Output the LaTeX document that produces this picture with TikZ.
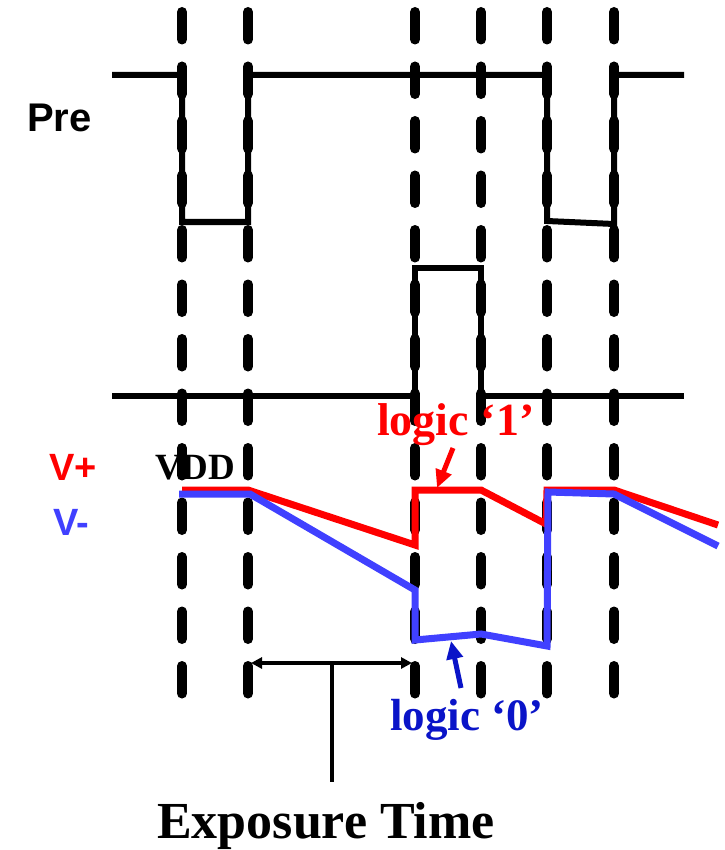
\documentclass[tikz,border=0pt]{standalone}
\usepackage{fontspec}
\setmainfont{Liberation Serif}
\newfontfamily\arialfont{Liberation Sans}
\usetikzlibrary{arrows.meta}
\definecolor{vred}{RGB}{255,0,0}
\definecolor{vblue}{RGB}{64,64,255}
\definecolor{dblue}{RGB}{10,20,200}
\tikzset{
  guide/.style={line width=10pt, line cap=round, dash pattern=on 27.5pt off 27pt, black},
  sig/.style={line width=6pt, black, line join=miter},
  vplus/.style={line width=7pt, vred, line join=miter},
  vminus/.style={line width=7pt, vblue, line join=miter},
  lbl/.style={inner sep=0pt, anchor=base west, font=\bfseries},
  sans/.style={inner sep=0pt, anchor=base west, font=\arialfont\bfseries},
  bigarrow/.style={line width=5pt, -{Triangle[length=18pt,width=16pt]}},
  bracket/.style={line width=4.5pt, {Triangle[length=11pt,width=11pt]}-{Triangle[length=11pt,width=11pt]}},
}
\begin{document}
\begin{tikzpicture}[x=1pt,y=-1pt]
\useasboundingbox (0,0) rectangle (724,850);
% guides
\foreach \x/\n in {182/a,248/b,415/c,481/d,547/e,614/f}{
  \coordinate (t\n) at (\x,12);
  \coordinate (b\n) at (\x,694);
  \draw[guide] (t\n) -- (b\n);
}
% Pre signal
\draw[sig] (112,75) -- (182,75) -- (182,222) -- (248,222) -- (248,75) -- (547,75) -- (547,221) -- (614,224) -- (614,75) -- (684,75);
% second signal
\draw[sig] (112,396) -- (415,396) -- (415,268) -- (481,268) -- (481,396) -- (684,396);
% V+ and V-
\draw[vplus] (182,490) -- (248,490) -- (415,545) -- (415,490) -- (481,490) -- (546,524) -- (547,490) -- (614,490) -- (718,525);
\draw[vminus] (179,494) -- (250,494) -- (415,590) -- (415,640) -- (481,634) -- (547,646) -- (548,492) -- (614,494) -- (718,546);
% labels
\node[sans, vred, font=\arialfont\bfseries\fontsize{38}{44}\selectfont] (vp) at (49,480) {V+};
\node[sans, vblue, font=\arialfont\bfseries\fontsize{38}{44}\selectfont] (vm) at (53,535) {V-};
\node[sans, font=\arialfont\bfseries\fontsize{40}{48}\selectfont] (pre) at (27,132) {Pre};
\node[lbl, font=\bfseries\fontsize{37}{44}\selectfont] (vdd) at (155,479) {VDD};
\node[lbl, vred, font=\bfseries\fontsize{46}{54}\selectfont] (l1) at (377,435) {logic ‘1’};
\node[lbl, dblue, font=\bfseries\fontsize{45}{54}\selectfont] (l0) at (390,730) {logic ‘0’};
\node[lbl, font=\bfseries\fontsize{52}{60}\selectfont] (exp) at (157,838) {Exposure Time};
% arrows
\coordinate (r1s) at (453,448);
\coordinate (r1e) at (437,488);
\draw[bigarrow, vred] (r1s) -- (r1e);
\coordinate (b0s) at (461,688);
\coordinate (b0e) at (451,641);
\draw[bigarrow, dblue] (b0s) -- (b0e);
% exposure bracket
\coordinate (e1) at (251,663);
\coordinate (e2) at (412,663);
\coordinate (em) at (332,663);
\coordinate (eb) at (332,782);
\draw[bracket] (e1) -- (e2);
\draw[line width=4.5pt] (em) -- (eb);
\end{tikzpicture}
\end{document}
